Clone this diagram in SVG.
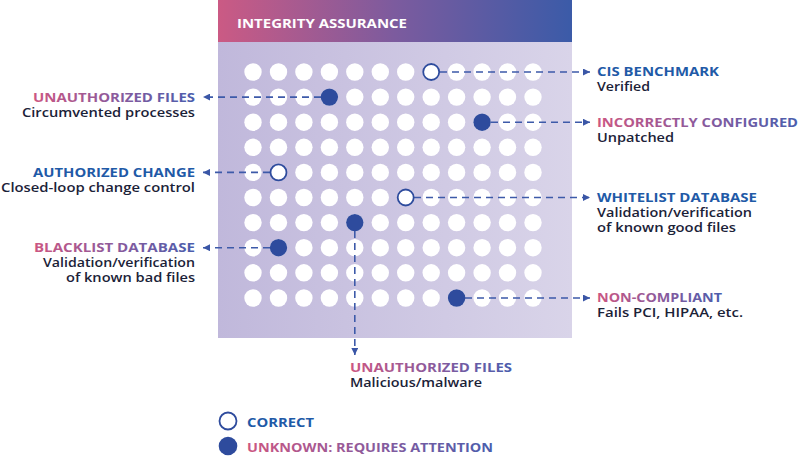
<svg xmlns="http://www.w3.org/2000/svg" xmlns:xlink="http://www.w3.org/1999/xlink" width="800" height="457" viewBox="0 0 800 457">
<defs>
<linearGradient id="hdr" x1="0" y1="0" x2="1" y2="0">
<stop offset="0" stop-color="#cb5a84"/>
<stop offset="0.5" stop-color="#7c5b9e"/>
<stop offset="1" stop-color="#3b5ba8"/>
</linearGradient>
<linearGradient id="panel" x1="0" y1="0" x2="1" y2="0">
<stop offset="0" stop-color="#c0b8db"/>
<stop offset="1" stop-color="#d9d4e9"/>
</linearGradient>
<linearGradient id="tg" x1="0" y1="0" x2="1" y2="0">
<stop offset="0" stop-color="#cc5682"/>
<stop offset="0.5" stop-color="#8c5a9c"/>
<stop offset="1" stop-color="#4a5dad"/>
</linearGradient>
<marker id="arr" viewBox="0 0 10 10" refX="10" refY="5" markerWidth="7" markerHeight="7" markerUnits="userSpaceOnUse" orient="auto">
<path d="M0,0 L10,5 L0,10 Z" fill="#3a56a6"/>
</marker>
<g id="row">
<circle cx="253" cy="0" r="8.7"/><circle cx="278.5" cy="0" r="8.7"/><circle cx="303.9" cy="0" r="8.7"/><circle cx="329.4" cy="0" r="8.7"/>
<circle cx="354.8" cy="0" r="8.7"/><circle cx="380.3" cy="0" r="8.7"/><circle cx="405.7" cy="0" r="8.7"/><circle cx="431.2" cy="0" r="8.7"/>
<circle cx="456.6" cy="0" r="8.7"/><circle cx="482.1" cy="0" r="8.7"/><circle cx="507.5" cy="0" r="8.7"/><circle cx="533" cy="0" r="8.7"/>
</g>
</defs>
<style>
.title{font-family:"Open Sans","Liberation Sans",sans-serif;font-weight:700;font-size:13px}
.sub{font-family:"Open Sans","Liberation Sans",sans-serif;font-weight:600;font-size:13px;fill:#1b2238}
.blue{fill:#1f5aa7}
.grad{fill:url(#tg)}
.end{text-anchor:end}
.conn{stroke:#3d5aa9;stroke-width:1.6;stroke-dasharray:7 5;fill:none}
.ok{fill:#fff;stroke:#2e4b9d;stroke-width:1.8}
.bad{fill:#2e4b9d}
</style>

<g id="panel-box">
<rect x="218" y="42" width="354" height="296" fill="url(#panel)"/>
<rect x="218" y="0" width="354" height="42" fill="url(#hdr)"/>
<text x="237" y="28" class="title" fill="#fff" font-size="13.5" textLength="170" lengthAdjust="spacingAndGlyphs">INTEGRITY ASSURANCE</text>
</g>

<g id="grid" fill="#fff">
<use xlink:href="#row" y="72"/>
<use xlink:href="#row" y="97.1"/>
<use xlink:href="#row" y="122.2"/>
<use xlink:href="#row" y="147.3"/>
<use xlink:href="#row" y="172.4"/>
<use xlink:href="#row" y="197.5"/>
<use xlink:href="#row" y="222.6"/>
<use xlink:href="#row" y="247.7"/>
<use xlink:href="#row" y="272.8"/>
<use xlink:href="#row" y="298"/>
</g>

<g id="connectors">
<path class="conn" d="M440,72 H590" marker-end="url(#arr)"/>
<path class="conn" d="M321,97.1 H203" marker-end="url(#arr)"/>
<path class="conn" d="M491,122.2 H590" marker-end="url(#arr)"/>
<path class="conn" d="M270,172.4 H203" marker-end="url(#arr)"/>
<path class="conn" d="M414,197.5 H590" marker-end="url(#arr)"/>
<path class="conn" d="M354.8,231 V355" marker-end="url(#arr)"/>
<path class="conn" d="M270,247.7 H203" marker-end="url(#arr)"/>
<path class="conn" d="M465,298 H590" marker-end="url(#arr)"/>
</g>

<g id="markers">
<circle class="ok" cx="431.2" cy="72" r="8"/>
<circle class="bad" cx="329.4" cy="97.1" r="8.7"/>
<circle class="bad" cx="482.1" cy="122.2" r="8.7"/>
<circle class="ok" cx="278.5" cy="172.4" r="8"/>
<circle class="ok" cx="405.7" cy="197.5" r="8"/>
<circle class="bad" cx="354.8" cy="222.6" r="8.7"/>
<circle class="bad" cx="278.5" cy="247.7" r="8.7"/>
<circle class="bad" cx="456.6" cy="298" r="8.7"/>
</g>

<g id="unauthorized-left">
<text x="195" y="102" class="title grad end" textLength="162" lengthAdjust="spacingAndGlyphs">UNAUTHORIZED FILES</text>
<text x="195" y="117" class="sub end" textLength="173" lengthAdjust="spacingAndGlyphs">Circumvented processes</text>
</g>
<g id="authorized-change">
<text x="195" y="177" class="title blue end" textLength="162" lengthAdjust="spacingAndGlyphs">AUTHORIZED CHANGE</text>
<text x="195" y="192" class="sub end" textLength="194" lengthAdjust="spacingAndGlyphs">Closed-loop change control</text>
</g>
<g id="blacklist">
<text x="195" y="252" class="title grad end" textLength="161" lengthAdjust="spacingAndGlyphs">BLACKLIST DATABASE</text>
<text x="195" y="267" class="sub end" textLength="152" lengthAdjust="spacingAndGlyphs">Validation/verification</text>
<text x="195" y="282" class="sub end" textLength="129" lengthAdjust="spacingAndGlyphs">of known bad files</text>
</g>
<g id="cis">
<text x="597" y="76" class="title blue" textLength="122" lengthAdjust="spacingAndGlyphs">CIS BENCHMARK</text>
<text x="597" y="91" class="sub" textLength="53" lengthAdjust="spacingAndGlyphs">Verified</text>
</g>
<g id="incorrect">
<text x="597" y="127" class="title grad" textLength="201" lengthAdjust="spacingAndGlyphs">INCORRECTLY CONFIGURED</text>
<text x="597" y="142" class="sub" textLength="77" lengthAdjust="spacingAndGlyphs">Unpatched</text>
</g>
<g id="whitelist">
<text x="597" y="202" class="title blue" textLength="160" lengthAdjust="spacingAndGlyphs">WHITELIST DATABASE</text>
<text x="597" y="217" class="sub" textLength="155" lengthAdjust="spacingAndGlyphs">Validation/verification</text>
<text x="597" y="232" class="sub" textLength="139" lengthAdjust="spacingAndGlyphs">of known good files</text>
</g>
<g id="noncompliant">
<text x="597" y="302" class="title grad" textLength="125" lengthAdjust="spacingAndGlyphs">NON-COMPLIANT</text>
<text x="597" y="317" class="sub" textLength="146" lengthAdjust="spacingAndGlyphs">Fails PCI, HIPAA, etc.</text>
</g>
<g id="unauthorized-bottom">
<text x="350" y="372" class="title grad" textLength="162" lengthAdjust="spacingAndGlyphs">UNAUTHORIZED FILES</text>
<text x="350" y="387" class="sub" textLength="132" lengthAdjust="spacingAndGlyphs">Malicious/malware</text>
</g>

<g id="legend">
<circle class="ok" cx="228" cy="421" r="8.5"/>
<text x="247" y="427" class="title blue" font-size="15" textLength="67" lengthAdjust="spacingAndGlyphs">CORRECT</text>
<circle class="bad" cx="228" cy="446" r="9.3"/>
<text x="247" y="452" class="title grad" font-size="15" textLength="246" lengthAdjust="spacingAndGlyphs">UNKNOWN: REQUIRES ATTENTION</text>
</g>
</svg>
